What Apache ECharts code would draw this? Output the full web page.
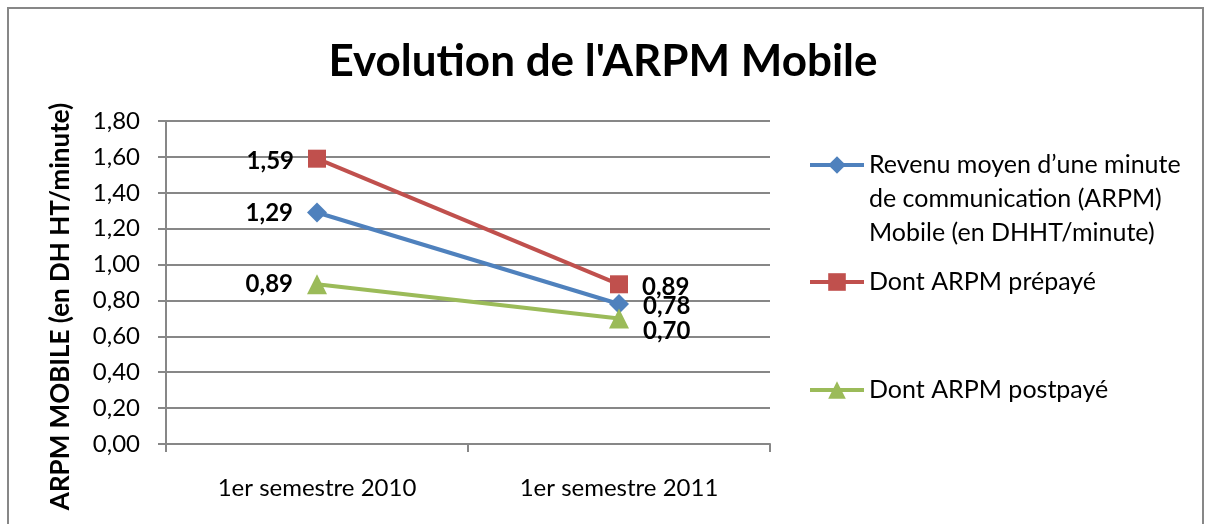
<!DOCTYPE html>
<html>
<head>
<meta charset="utf-8">
<script src="https://cdn.jsdelivr.net/npm/echarts@6/dist/echarts.min.js"></script>
<style>
  html, body { margin: 0; padding: 0; background: #fff; }
  #chart { width: 1206px; height: 524px; }
</style>
</head>
<body>
<div id="chart"></div>
<script>
// 数据
var categories = ['1er semestre 2010', '1er semestre 2011'];
var seriesNames = [
    'Revenu moyen d\u2019une minute\nde communication (ARPM)\nMobile (en DHHT/minute)',
    'Dont ARPM prépayé',
    'Dont ARPM postpayé'
];
var arpmTotal = [1.29, 0.78];
var arpmPrepaye = [1.59, 0.89];
var arpmPostpaye = [0.89, 0.70];
var yTicks = [0, 0.2, 0.4, 0.6, 0.8, 1.0, 1.2, 1.4, 1.6, 1.8];

var FONT = 'Lato';
var GRAY = '#878787';

function fr(v) {
    return Number(v).toFixed(2).replace('.', ',');
}

// 每个点的标签位置
function withLabels(values, positions, offsets) {
    return values.map(function (v, i) {
        return {
            value: v,
            label: { position: positions[i], offset: offsets[i] || [0, 0] }
        };
    });
}

var labelStyle = {
    show: true,
    fontFamily: FONT,
    fontWeight: 'bold',
    fontSize: 24,
    color: '#000',
    distance: 14,
    formatter: function (p) { return fr(p.value); }
};

var legendText = { fontFamily: FONT, fontSize: 25, color: '#000', lineHeight: 30 };
var legendCommon = { left: 808, padding: 0, itemWidth: 54, itemHeight: 22, lineStyle: { width: 4 } };

var option = {
    animation: false,
    textStyle: { fontFamily: FONT },
    title: {
        text: "Evolution de l'ARPM Mobile",
        left: 'center',
        top: 35,
        textStyle: { fontFamily: FONT, fontWeight: 'bold', fontSize: 44, color: '#000' }
    },
    graphic: [{
        type: 'rect',
        shape: { x: 8, y: 8, width: 1195, height: 530 },
        style: { fill: 'none', stroke: GRAY, lineWidth: 2 },
        silent: true
    }],
    legend: [
        Object.assign({}, legendCommon, {
            data: [seriesNames[0]],
            top: 80,
            // 前面加两个空行，让图标对齐第一行
            formatter: function (name) { return '\n\n' + name; },
            textStyle: { fontFamily: FONT, fontSize: 25, color: '#000', lineHeight: 34 }
        }),
        Object.assign({}, legendCommon, {
            data: [seriesNames[1]],
            top: 267,
            textStyle: legendText
        }),
        Object.assign({}, legendCommon, {
            data: [seriesNames[2]],
            top: 375,
            textStyle: legendText
        })
    ],
    grid: { left: 166, top: 121, width: 604, height: 323, containLabel: false },
    xAxis: {
        type: 'category',
        data: categories,
        boundaryGap: true,
        axisLine: { lineStyle: { color: GRAY, width: 2 } },
        axisTick: { show: true, length: 8, lineStyle: { color: GRAY, width: 2 } },
        axisLabel: { fontFamily: FONT, fontSize: 24, color: '#000', margin: 32 }
    },
    yAxis: {
        type: 'value',
        min: yTicks[0],
        max: yTicks[yTicks.length - 1],
        interval: 0.2,
        name: 'ARPM MOBILE (en DH HT/minute)',
        nameLocation: 'middle',
        nameGap: 92,
        nameTextStyle: { fontFamily: FONT, fontWeight: 'bold', fontSize: 26, color: '#000', padding: [0, 48, 0, 0] },
        axisLine: { show: true, lineStyle: { color: GRAY, width: 2 } },
        axisTick: { show: true, length: 8, lineStyle: { color: GRAY, width: 2 } },
        axisLabel: {
            fontFamily: FONT, fontSize: 24, color: '#000', margin: 26,
            formatter: function (v) { return fr(v); }
        },
        splitLine: { show: true, lineStyle: { color: GRAY, width: 2 } }
    },
    series: [
        {
            name: seriesNames[0],
            type: 'line',
            color: '#4F81BD',
            symbol: 'diamond',
            symbolSize: 20,
            lineStyle: { width: 4 },
            label: labelStyle,
            data: withLabels(arpmTotal, ['left', 'right'], [[0, 1], [0, 2]])
        },
        {
            name: seriesNames[1],
            type: 'line',
            color: '#C0504D',
            symbol: 'rect',
            symbolSize: 18,
            lineStyle: { width: 4 },
            label: labelStyle,
            data: withLabels(arpmPrepaye, ['left', 'right'], [[0, 3], [0, 3]])
        },
        {
            name: seriesNames[2],
            type: 'line',
            color: '#9BBB59',
            symbol: 'triangle',
            symbolSize: 20,
            lineStyle: { width: 4 },
            label: labelStyle,
            data: withLabels(arpmPostpaye, ['left', 'right'], [[0, 0], [0, 13]])
        }
    ]
};

var myChart = echarts.init(document.getElementById('chart'));
myChart.setOption(option, true);
</script>
</body>
</html>
